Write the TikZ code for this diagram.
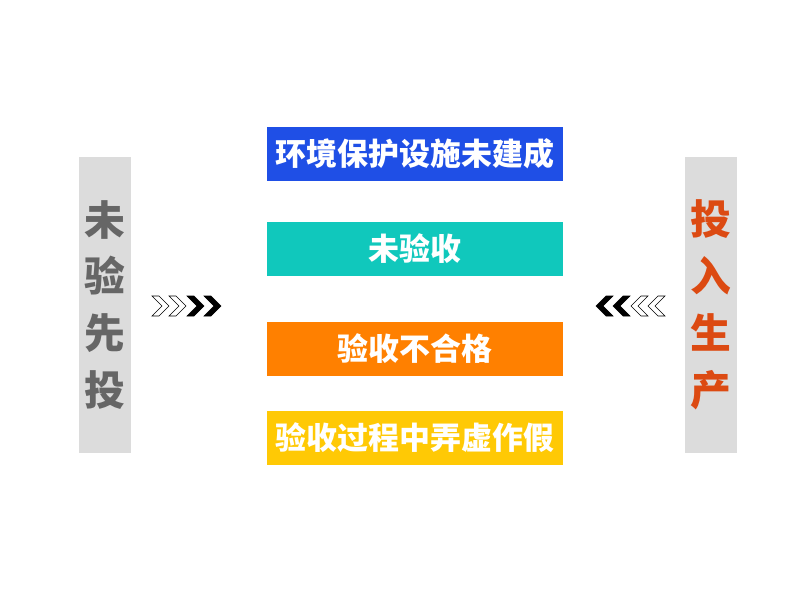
\documentclass[tikz,border=0pt]{standalone}
\usepackage{fontspec}
\usepackage{tikz}
\newfontfamily\cjk{Noto Sans CJK SC Black}

\definecolor{boxblue}{HTML}{1F4FE6}
\definecolor{boxteal}{HTML}{10C8BC}
\definecolor{boxorange}{HTML}{FF8000}
\definecolor{boxyellow}{HTML}{FFC905}
\definecolor{bargray}{HTML}{DCDCDC}
\definecolor{leftgray}{HTML}{666666}
\definecolor{rightred}{HTML}{DC4A12}

\tikzset{
  casebox/.style={minimum width=7.4cm, minimum height=1.33cm, inner sep=0pt,
    text=white, font=\cjk\fontsize{22}{22}\selectfont},
  sidebar/.style={fill=bargray, minimum width=1.3cm, minimum height=7.4cm,
    inner sep=0pt, align=center, font=\cjk\fontsize{29}{40.5}\selectfont}
}

\begin{document}
\begin{tikzpicture}[x=0.025cm, y=-0.025cm]
    \useasboundingbox [fill=white] (0,0) rectangle (800,600);
    % side bars
    \node [sidebar, text=leftgray] (weiyan) at (105,305) {未\\验\\先\\投};
    \node [sidebar, text=rightred] (touru) at (711,305) {投\\入\\生\\产};
    % the four cases
    \node [casebox, fill=boxblue] (huanbao) at (415,154) {环境保护设施未建成};
    \node [casebox, fill=boxteal] (weiyanshou) at (415,249) {未验收};
    \node [casebox, fill=boxorange] (buhege) at (415,349) {验收不合格};
    \node [casebox, fill=boxyellow] (zuojia) at (415,438) {验收过程中弄虚作假};
    % chevrons
    \foreach \x/\f in {152/white, 169/white, 187/black, 204/black}
        \draw [fill=\f, line width=0.4pt] (\x,296) -- (\x+7,296) -- (\x+17,306)
            -- (\x+7,316) -- (\x,316) -- (\x+10,306) -- cycle;
    \foreach \x/\f in {665/white, 648/white, 630/black, 613/black}
        \draw [fill=\f, line width=0.4pt] (\x,296) -- (\x-7,296) -- (\x-17,306)
            -- (\x-7,316) -- (\x,316) -- (\x-10,306) -- cycle;
\end{tikzpicture}
\end{document}
